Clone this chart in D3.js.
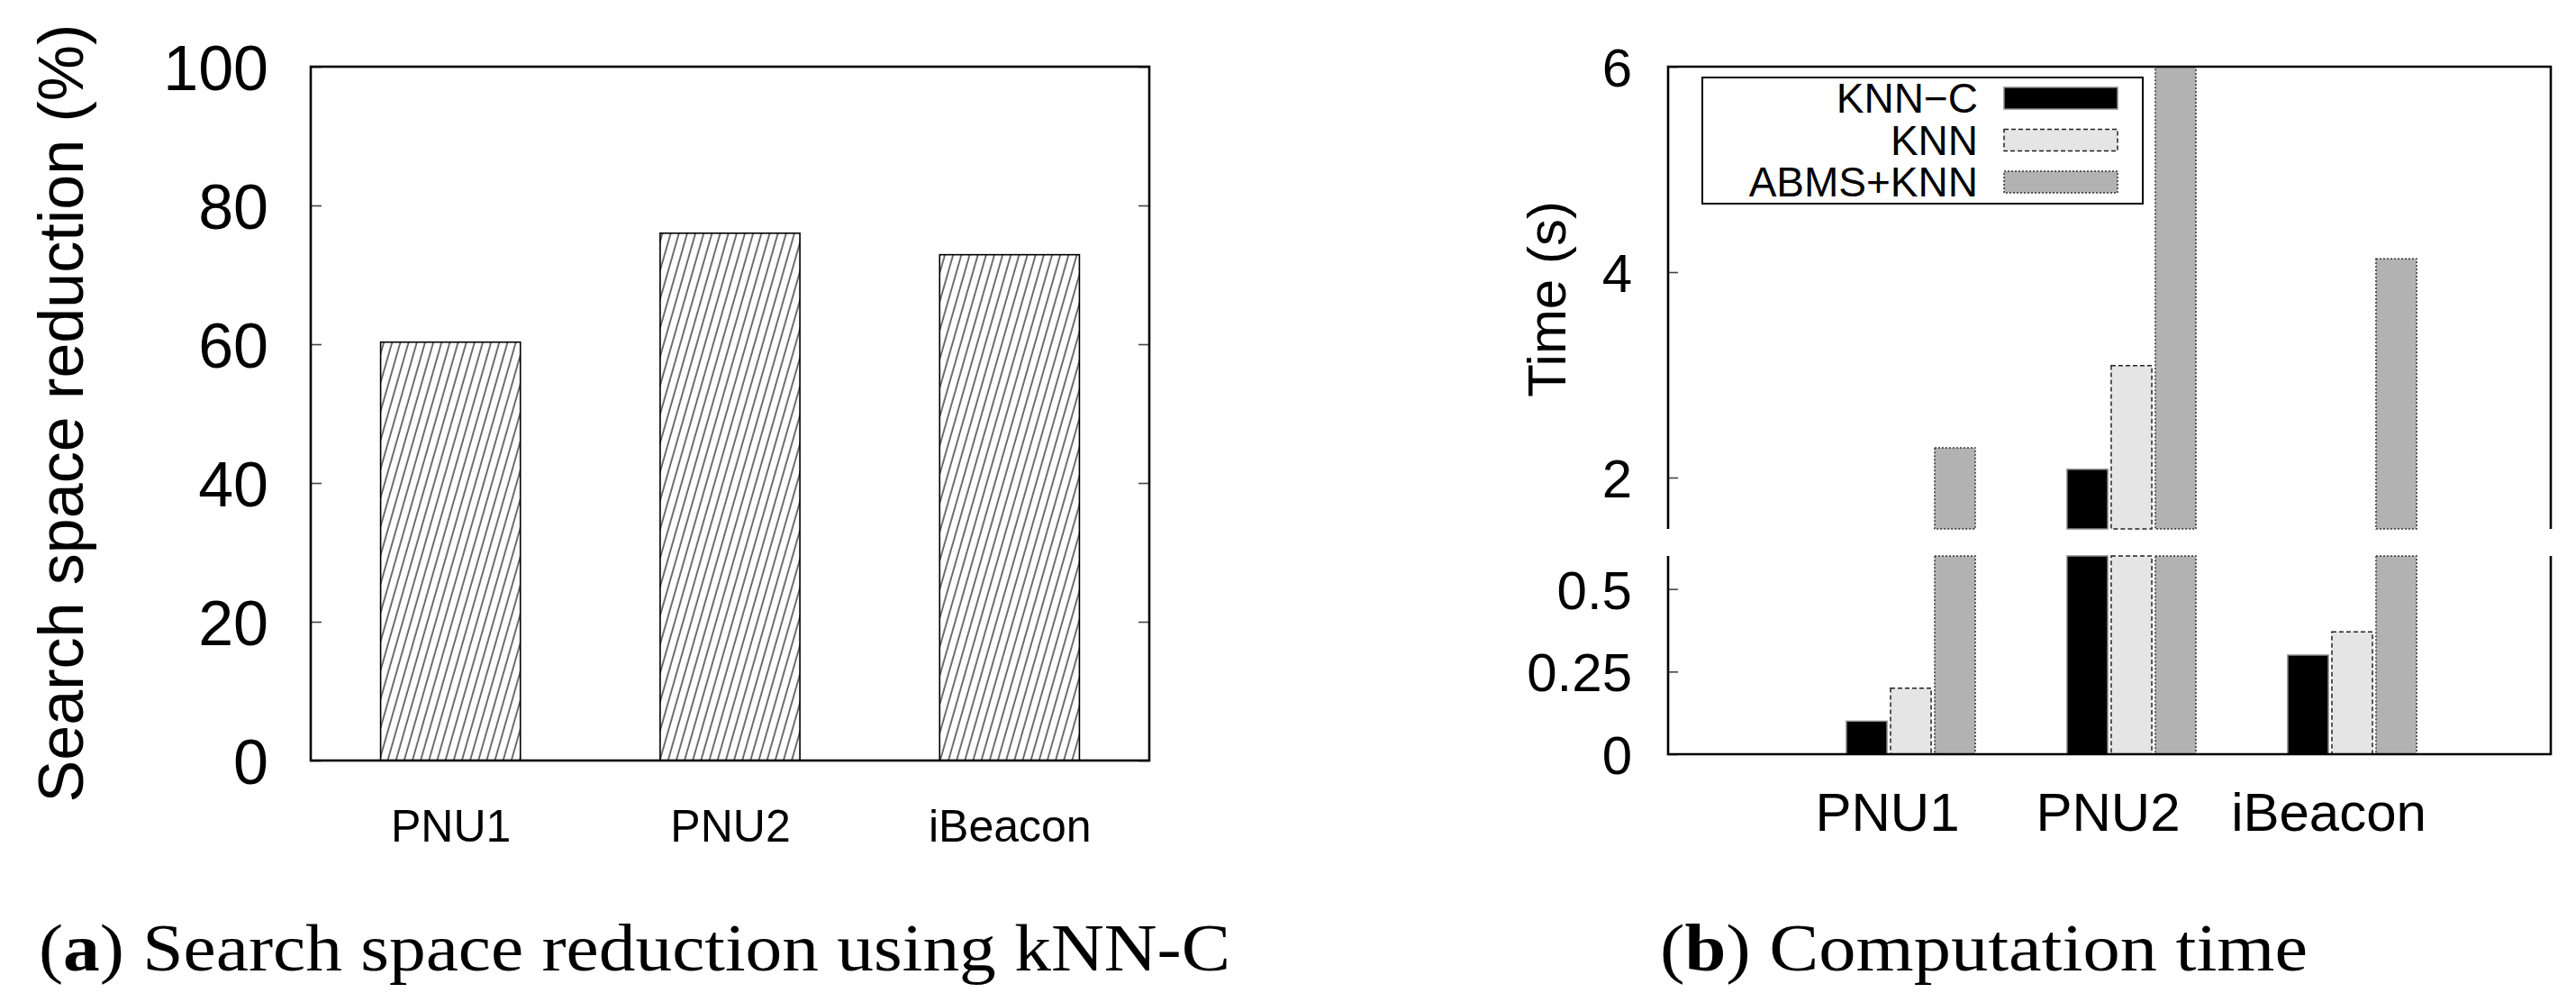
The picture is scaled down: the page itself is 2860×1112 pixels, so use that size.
<!DOCTYPE html>
<html>
<head>
<meta charset="utf-8">
<script src="https://cdn.jsdelivr.net/npm/d3@7"></script>
<style>
  body { margin: 0; background: #fff; }
  svg { display: block; }
  text { font-family: "Liberation Sans", Arial, sans-serif; fill: #000; }
  .caption { font-family: "Liberation Serif", "DejaVu Serif", serif; }
</style>
</head>
<body>
<script>
// ---- data ----
const leftCats = ["PNU1", "PNU2", "iBeacon"];
const reduction = [60.3, 76.0, 72.9];            // % search space reduction (kNN-C)
const leftTicks = [0, 20, 40, 60, 80, 100];

const rightCats = ["PNU1", "PNU2", "iBeacon"];
const seriesNames = ["KNN\u2212C", "KNN", "ABMS+KNN"];
const knnC = [0.10, 2.08, 0.30];
const knn = [0.20, 3.09, 0.37];
const abmsKnn = [2.29, 6.8, 4.13];                // PNU2 runs off the top of the axis
const upperTicks = [2, 4, 6];
const lowerTicks = [0, 0.25, 0.5];

// ---- page ----
const W = 2860, H = 1112;
const svg = d3.select("body").append("svg").attr("width", W).attr("height", H);

const defs = svg.append("defs");
const hatch = defs.append("pattern")
    .attr("id", "hatch")
    .attr("patternUnits", "userSpaceOnUse")
    .attr("width", 8.8).attr("height", 40)
    .attr("patternTransform", "rotate(16)");
hatch.append("rect").attr("width", 8.8).attr("height", 40).attr("fill", "#fff");
hatch.append("line")
    .attr("x1", 4).attr("x2", 4).attr("y1", 0).attr("y2", 40)
    .attr("stroke", "#333").attr("stroke-width", 1.4);

// ================= (a) left chart =================
const L = {left: 345, right: 1276, top: 74, bottom: 844};
const xL = d3.scaleLinear().domain([-0.5, 2.5]).range([L.left, L.right]);
const yL = d3.scaleLinear().domain([0, 100]).range([L.bottom, L.top]);

const gA = svg.append("g");

gA.selectAll(".bar")
    .data(reduction)
    .enter().append("rect")
        .attr("class", "bar")
        .attr("x", (d, i) => xL(i - 0.25))
        .attr("width", xL(0.25) - xL(-0.25))
        .attr("y", d => yL(d))
        .attr("height", d => yL(0) - yL(d))
        .attr("fill", "url(#hatch)")
        .attr("stroke", "#000")
        .attr("stroke-width", 1.6);

// y axis (inward ticks, mirrored on the right)
const axL = gA.append("g")
    .attr("transform", "translate(" + L.left + ",0)")
    .call(d3.axisLeft(yL).tickValues(leftTicks).tickSizeInner(-12).tickSizeOuter(0).tickPadding(47));
axL.select(".domain").remove();
axL.selectAll("line").attr("stroke", "#444").attr("stroke-width", 1.6);
axL.selectAll("text").attr("font-size", 70).attr("dy", "0.36em");

const axLR = gA.append("g")
    .attr("transform", "translate(" + L.right + ",0)")
    .call(d3.axisRight(yL).tickValues(leftTicks).tickSizeInner(-12).tickSizeOuter(0).tickFormat(""));
axLR.select(".domain").remove();
axLR.selectAll("line").attr("stroke", "#444").attr("stroke-width", 1.6);

// x axis labels
const axLX = gA.append("g")
    .attr("transform", "translate(0," + L.bottom + ")")
    .call(d3.axisBottom(xL).tickValues([0, 1, 2]).tickFormat(i => leftCats[i]).tickSize(0).tickPadding(54));
axLX.select(".domain").remove();
axLX.selectAll("text").attr("font-size", 50);

gA.append("rect")
    .attr("x", L.left).attr("y", L.top)
    .attr("width", L.right - L.left).attr("height", L.bottom - L.top)
    .attr("fill", "none").attr("stroke", "#000").attr("stroke-width", 2.6);

gA.append("text")
    .attr("transform", "translate(92," + ((29 + 888) / 2) + ") rotate(-90)")
    .attr("text-anchor", "middle")
    .attr("font-size", 70)
    .text("Search space reduction (%)");

// ================= (b) right chart (broken y axis) =================
const R = {left: 1852, right: 2832, top: 74, breakTop: 587, breakBottom: 617, bottom: 837};
const xR = d3.scaleLinear().domain([-1.1, 2.9]).range([R.left, R.right]);
const yUp = d3.scaleLinear().domain([1.5, 6]).range([R.breakTop, R.top]);
const yLo = d3.scaleLinear().domain([0, 0.6]).range([R.bottom, R.breakBottom]);

const gB = svg.append("g");

const styles = [
    {fill: "#000000", stroke: "#8a8a8a", dash: null},
    {fill: "#e5e5e5", stroke: "#222", dash: "5,3"},
    {fill: "#b2b2b2", stroke: "#333", dash: "2,2"}
];
const allSeries = [knnC, knn, abmsKnn];
const barW = 0.184;

const barData = [];
allSeries.forEach((vals, s) => {
    vals.forEach((v, i) => barData.push({s: s, i: i, v: v}));
});

function drawPanel(sel, y, lo, hi) {
    sel.selectAll("rect")
        .data(barData.filter(d => d.v > lo))
        .enter().append("rect")
            .attr("x", d => xR(d.i + (d.s - 1) * 0.2 - barW / 2))
            .attr("width", xR(barW) - xR(0))
            .attr("y", d => y(Math.min(d.v, hi)))
            .attr("height", d => y(lo) - y(Math.min(d.v, hi)))
            .attr("fill", d => styles[d.s].fill)
            .attr("stroke", d => styles[d.s].stroke)
            .attr("stroke-width", 1.5)
            .attr("stroke-dasharray", d => styles[d.s].dash);
}
drawPanel(gB.append("g"), yUp, 1.5, 6);
drawPanel(gB.append("g"), yLo, 0, 0.6);

// axes
const axUp = gB.append("g")
    .attr("transform", "translate(" + R.left + ",0)")
    .call(d3.axisLeft(yUp).tickValues(upperTicks).tickFormat(d3.format("d")).tickSizeInner(-11).tickSizeOuter(0).tickPadding(40));
const axLo = gB.append("g")
    .attr("transform", "translate(" + R.left + ",0)")
    .call(d3.axisLeft(yLo).tickValues(lowerTicks).tickFormat(d => String(d)).tickSizeInner(-11).tickSizeOuter(0).tickPadding(40));
[axUp, axLo].forEach(a => {
    a.select(".domain").remove();
    a.selectAll("line").attr("stroke", "#444").attr("stroke-width", 1.6);
    a.selectAll("text").attr("font-size", 60).attr("dy", "0.36em");
});

const axRX = gB.append("g")
    .attr("transform", "translate(0," + R.bottom + ")")
    .call(d3.axisBottom(xR).tickValues([0, 1, 2]).tickFormat(i => rightCats[i]).tickSize(0).tickPadding(42));
axRX.select(".domain").remove();
axRX.selectAll("text").attr("font-size", 60).attr("dx", xR(-0.108) - xR(0));

// frame pieces of the two panels
const framePaths = [
    [[R.left, R.breakTop], [R.left, R.top], [R.right, R.top], [R.right, R.breakTop]],
    [[R.left, R.breakBottom], [R.left, R.bottom], [R.right, R.bottom], [R.right, R.breakBottom]]
];
gB.selectAll(".frame")
    .data(framePaths)
    .enter().append("path")
        .attr("class", "frame")
        .attr("d", d3.line())
        .attr("fill", "none")
        .attr("stroke", "#000")
        .attr("stroke-width", 2.6);

gB.append("text")
    .attr("transform", "translate(1738,332) rotate(-90)")
    .attr("text-anchor", "middle")
    .attr("font-size", 60)
    .text("Time (s)");

// legend
const lg = gB.append("g");
lg.append("rect")
    .attr("x", 1890).attr("y", 86).attr("width", 489).attr("height", 140)
    .attr("fill", "#fff").attr("stroke", "#000").attr("stroke-width", 2);
const rows = lg.selectAll(".row")
    .data(seriesNames)
    .enter().append("g")
        .attr("class", "row")
        .attr("transform", (d, i) => "translate(0," + (109 + i * 46.5) + ")");
rows.append("text")
    .attr("x", 2196).attr("y", 16)
    .attr("text-anchor", "end")
    .attr("font-size", 46)
    .text(d => d);
rows.append("rect")
    .attr("x", 2225).attr("y", -12).attr("width", 126).attr("height", 24)
    .attr("fill", (d, i) => styles[i].fill)
    .attr("stroke", (d, i) => styles[i].stroke)
    .attr("stroke-width", 1.5)
    .attr("stroke-dasharray", (d, i) => styles[i].dash);

// ================= captions =================
const capA = svg.append("text")
    .attr("class", "caption")
    .attr("x", 43).attr("y", 1077)
    .attr("font-size", 74)
    .attr("textLength", 1323).attr("lengthAdjust", "spacingAndGlyphs");
capA.append("tspan").text("(");
capA.append("tspan").attr("font-weight", "bold").text("a");
capA.append("tspan").text(") Search space reduction using kNN-C");

const capB = svg.append("text")
    .attr("class", "caption")
    .attr("x", 1843).attr("y", 1077)
    .attr("font-size", 74)
    .attr("textLength", 719).attr("lengthAdjust", "spacingAndGlyphs");
capB.append("tspan").text("(");
capB.append("tspan").attr("font-weight", "bold").text("b");
capB.append("tspan").text(") Computation time");
</script>
</body>
</html>
